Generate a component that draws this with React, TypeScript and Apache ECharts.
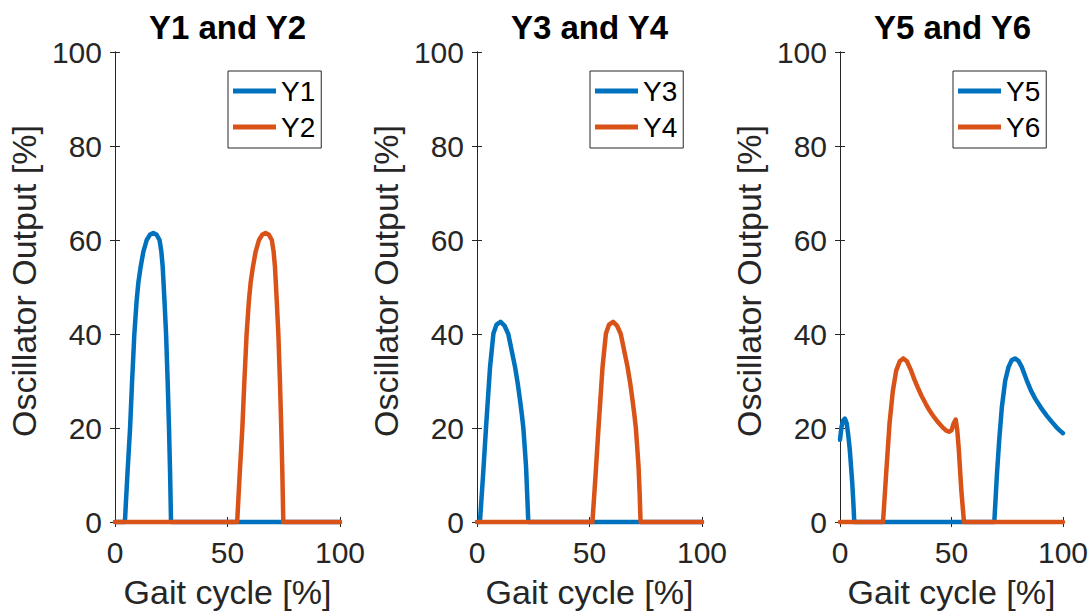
import React, { useEffect, useRef } from "react";
import * as echarts from "echarts";

const titles = ["Y1 and Y2", "Y3 and Y4", "Y5 and Y6"];
const seriesNames = [["Y1", "Y2"], ["Y3", "Y4"], ["Y5", "Y6"]];
const xTicks = { min: 0, max: 100, interval: 50 };
const yTicks = { min: 0, max: 100, interval: 20 };
const xName = "Gait cycle [%]";
const yName = "Oscillator Output [%]";

const y1: number[][] = [[0,0],[4.4,0],[5.5,10],[6.7,20],[7.6,30],[8.6,40],[9.6,47],[10.4,51],[11.4,54.3],[12.6,57.5],[14.1,60],[15.5,61.1],[17,61.5],[18.5,61.1],[19.8,60],[20.6,57.5],[21.2,54.3],[22,47],[22.7,40],[23.4,30],[24,20],[24.5,10],[24.9,0],[100,0]];
const y2: number[][] = [[0,0],[54.3,0],[55.4,10],[56.6,20],[57.5,30],[58.5,40],[59.5,47],[60.3,51],[61.3,54.3],[62.5,57.5],[64,60],[65.4,61.1],[66.9,61.5],[68.4,61.1],[69.7,60],[70.5,57.5],[71.1,54.3],[71.9,47],[72.6,40],[73.3,30],[73.9,20],[74.4,10],[74.8,0],[100,0]];
const y3: number[][] = [[0,0],[1.3,0],[2.7,10],[4,20],[5.8,33],[7.3,40.1],[8.7,42],[10.5,42.6],[12.2,41.8],[13.9,40],[15.4,36.5],[16.9,33],[18.1,29.5],[19.1,26],[19.9,23],[20.6,20],[21.2,16],[21.8,11.8],[22.3,6],[22.8,0],[100,0]];
const y4: number[][] = [[0,0],[51.3,0],[52.7,10],[54,20],[55.8,33],[57.3,40.1],[58.7,42],[60.5,42.6],[62.2,41.8],[63.9,40],[65.4,36.5],[66.9,33],[68.1,29.5],[69.1,26],[69.9,23],[70.6,20],[71.2,16],[71.8,11.8],[72.3,6],[72.7,0],[100,0]];
const y5: number[][] = [[0,17.5],[0.7,20.3],[1.4,21.6],[2.2,22],[3,21],[3.7,18.5],[4.4,15.3],[5,11.5],[5.5,8.2],[6,4],[6.4,0],[69.2,0],[70.4,10.3],[71.4,17.4],[72.6,24.5],[74.1,30.1],[75.6,33],[77,34.4],[78.5,34.8],[80,34.3],[81.5,33],[83.7,30.2],[85.6,28],[87.6,26.2],[90,24.4],[92.6,22.7],[95,21.3],[97,20.2],[98.5,19.5],[100,18.9]];
const y6: number[][] = [[0,0],[19.3,0],[20.7,10.3],[22.2,20.9],[23.7,27.9],[25.2,32.2],[26.8,34.2],[28.4,34.8],[30,34.2],[31.9,32.2],[33.3,30.4],[34.8,28.7],[36.6,26.8],[38.5,25.1],[40.3,23.6],[42.2,22.3],[44,21.2],[45.9,20.2],[47.5,19.5],[48.9,19.2],[50,19.5],[51,21],[51.9,21.8],[52.6,19.5],[53.3,15.3],[54.4,6.8],[55.6,0],[100,0]];

const seriesData = [[y1, y2], [y3, y4], [y5, y6]];
const colors = ["#0072BD", "#D95319"];

const FONT = '"Liberation Sans", Arial, Helvetica, sans-serif';
const AX = "#262626";

export default function App() {
  const ref = useRef<HTMLDivElement>(null);
  useEffect(() => {
    if (!ref.current) return;
    const chart = echarts.init(ref.current, undefined, { renderer: "svg" });
    const lefts = [115, 477, 840];
    const W = 225, TOP = 52, H = 470;
    const grid = lefts.map((l) => ({ left: l, top: TOP, width: W, height: H }));
    const tickCommon = {
      axisLine: { show: true, lineStyle: { color: AX, width: 1 } },
      axisTick: { show: true, inside: true, length: 5, lineStyle: { color: AX, width: 1 } },
      splitLine: { show: false },
    };
    const xAxis: any[] = [];
    const yAxis: any[] = [];
    lefts.forEach((_, i) => {
      xAxis.push({
        type: "value", gridIndex: i, position: "bottom", ...xTicks, ...tickCommon,
        axisLabel: { fontSize: 30, color: AX, fontFamily: FONT, margin: 15 },
        name: xName, nameLocation: "middle", nameGap: 53,
        nameTextStyle: { fontSize: 34, color: AX, fontFamily: FONT },
      });
      yAxis.push({
        type: "value", gridIndex: i, position: "left", ...yTicks, ...tickCommon,
        axisLabel: { fontSize: 30, color: AX, fontFamily: FONT, margin: 13 },
        name: yName, nameLocation: "middle", nameGap: 74, nameRotate: 90,
        nameTextStyle: { fontSize: 34, color: AX, fontFamily: FONT, padding: [0, 0, 0, 12] },
      });
    });
    lefts.forEach((_, i) => {
      xAxis.push({ type: "value", gridIndex: i, position: "top", ...xTicks, ...tickCommon, axisLabel: { show: false } });
      yAxis.push({ type: "value", gridIndex: i, position: "right", ...yTicks, ...tickCommon, axisLabel: { show: false } });
    });
    const series: any[] = [];
    seriesData.forEach((pair, i) => {
      pair.forEach((d, j) => {
        series.push({
          type: "line", name: seriesNames[i][j], xAxisIndex: i, yAxisIndex: i,
          data: d, showSymbol: false, symbol: "none", clip: false,
          lineStyle: { width: 4.5, color: colors[j], cap: "round", join: "round" },
          itemStyle: { color: colors[j] },
        });
      });
    });
    const legend = lefts.map((l, i) => ({
      data: seriesNames[i], left: l + 113, top: 71, orient: "vertical",
      icon: "rect", itemWidth: 43, itemHeight: 5, itemGap: 8,
      padding: [6, 6, 7, 5], borderColor: AX, borderWidth: 1, borderRadius: 0,
      backgroundColor: "#fff", selectedMode: false,
      textStyle: { fontSize: 28, color: "#000", fontFamily: FONT },
    }));
    const graphic = lefts.map((l, i) => ({
      type: "text", x: l + W / 2, y: 27,
      style: {
        text: titles[i], font: `bold 33px ${FONT}`, fill: "#000",
        align: "center", verticalAlign: "middle", textAlign: "center", textVerticalAlign: "middle",
      },
    }));
    chart.setOption({
      animation: false,
      backgroundColor: "#fff",
      grid, xAxis, yAxis, series, legend, graphic,
    });
    return () => chart.dispose();
  }, []);
  return <div ref={ref} style={{ position: "fixed", left: 0, top: 0, width: 1091, height: 614 }} />;
}
